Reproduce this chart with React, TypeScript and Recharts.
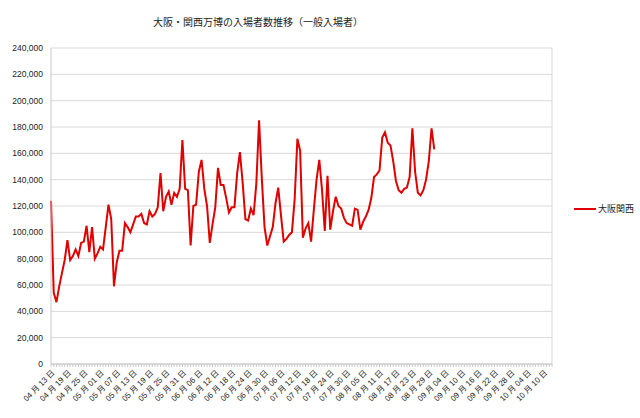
import React from "react";
import { LineChart, Line, XAxis, YAxis, CartesianGrid, Legend } from "recharts";

// expo period, 04/13 - 10/13
const months = [
  { month: 4, from: 13, to: 30 },
  { month: 5, from: 1, to: 31 },
  { month: 6, from: 1, to: 30 },
  { month: 7, from: 1, to: 31 },
  { month: 8, from: 1, to: 31 },
  { month: 9, from: 1, to: 30 },
  { month: 10, from: 1, to: 13 },
];

// general visitors per day, 04/13 - 08/31
const visitors = [
  124000, 54000, 47000, 59000, 69000, 79000, 94000, 79000, 82000, 87000,
  82000, 92000, 93000, 105000, 85000, 104000, 80000, 84000, 89000, 87000,
  104000, 121000, 110000, 59000, 77000, 86000, 86000, 107000, 104000, 100000,
  106000, 112000, 112000, 114000, 107000, 106000, 116000, 112000, 114000, 119000,
  145000, 116000, 127000, 131000, 121000, 130000, 127000, 133000, 170000, 133000,
  132000, 90000, 120000, 121000, 146000, 155000, 133000, 120000, 92000, 106000,
  119000, 149000, 136000, 136000, 126000, 115000, 119000, 119000, 145000, 161000,
  138000, 110000, 109000, 118000, 113000, 137000, 185000, 141000, 104000, 90000,
  97000, 104000, 122000, 134000, 113000, 93000, 95000, 98000, 100000, 125000,
  171000, 162000, 96000, 103000, 107000, 93000, 117000, 140000, 155000, 132000,
  101000, 143000, 102000, 116000, 127000, 120000, 118000, 111000, 107000, 106000,
  105000, 118000, 117000, 102000, 108000, 112000, 117000, 126000, 142000, 144000,
  147000, 172000, 176000, 168000, 166000, 154000, 139000, 132000, 130000, 133000,
  134000, 142000, 179000, 146000, 130000, 128000, 132000, 140000, 154000, 179000,
  163000,
];

const yTicks = [0, 20000, 40000, 60000, 80000, 100000, 120000, 140000, 160000, 180000, 200000, 220000, 240000];

const pad = (n: number) => (n < 10 ? "0" + n : "" + n);

const dates: string[] = [];
months.forEach((m) => {
  for (let d = m.from; d <= m.to; d++) dates.push(`${pad(m.month)} 月 ${pad(d)} 日`);
});

const data = dates.map((date, i) => ({
  date,
  osaka: i < visitors.length ? visitors[i] : null,
}));

const FONT = "'Liberation Sans', 'Noto Sans CJK JP', sans-serif";

const DateTick = (props: any) => {
  const { x, y, payload, index } = props;
  if (index % 6 !== 0) return <g />;
  return (
    <text
      x={x}
      y={y}
      dy={6}
      textAnchor="end"
      fontSize={8}
      fill="#222"
      fontFamily={FONT}
      transform={`rotate(-45, ${x}, ${y})`}
    >
      {payload.value}
    </text>
  );
};

const LegendBox = () => (
  <div style={{ display: "flex", alignItems: "center", fontFamily: FONT, fontSize: 9, color: "#222" }}>
    <svg width={23} height={6}>
      <line x1={0} y1={3} x2={22} y2={3} stroke="#e00000" strokeWidth={2} />
    </svg>
    <span style={{ marginLeft: 1 }}>大阪関西</span>
  </div>
);

export default function App() {
  return (
    <div style={{ position: "absolute", left: 0, top: 0, width: 640, height: 418, background: "#fff" }}>
      <div
        style={{
          position: "absolute",
          left: 0,
          width: 516,
          top: 14,
          textAlign: "center",
          fontFamily: FONT,
          fontSize: 10,
          color: "#222",
        }}
      >
        大阪・関西万博の入場者数推移（一般入場者）
      </div>
      <LineChart width={640} height={418} data={data} margin={{ top: 48, right: 28, bottom: 0, left: 0 }}>
        <CartesianGrid vertical={false} stroke="#d9d9d9" />
        <XAxis
          dataKey="date"
          interval={0}
          height={54}
          tick={<DateTick />}
          tickSize={3}
          tickLine={{ stroke: "#c8c8c8" }}
          axisLine={{ stroke: "#c8c8c8" }}
        />
        <YAxis
          width={51}
          domain={[0, 240000]}
          ticks={yTicks}
          tickFormatter={(v: number) => v.toLocaleString("en-US")}
          tick={{ fontSize: 8.5, fill: "#222", fontFamily: FONT }}
          tickLine={false}
          axisLine={{ stroke: "#c8c8c8" }}
        />
        <YAxis yAxisId="r" orientation="right" width={60} tick={false} tickLine={false} axisLine={{ stroke: "#d9d9d9" }} />
        <Legend
          layout="horizontal"
          verticalAlign="middle"
          align="center"
          content={<LegendBox />}
          wrapperStyle={{ left: 574, top: 202, width: 66 }}
        />
        <Line
          type="linear"
          dataKey="osaka"
          name="大阪関西"
          stroke="#e00000"
          strokeWidth={2}
          dot={false}
          isAnimationActive={false}
        />
      </LineChart>
    </div>
  );
}
